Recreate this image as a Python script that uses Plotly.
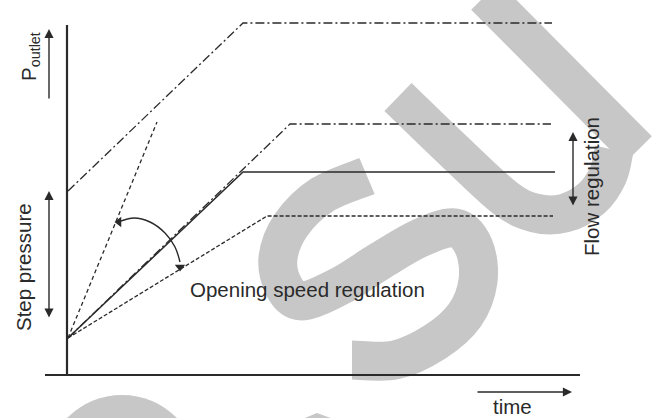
import plotly.graph_objects as go

W, H = 653, 418

# ---- schematic curves: outlet pressure vs time (arbitrary units) ----
fast_t = [0, 175, 484]      # step pressure + ramp (upper dash-dot)
fast_p = [184, 352, 352]
steep_t = [0, 89]           # fastest opening speed (dashed)
steep_p = [37, 253]
high_t = [0, 222, 483]      # higher flow setting (dash-dot)
high_p = [37, 251, 251]
nom_t = [0, 175, 487]       # nominal (solid)
nom_p = [37, 203, 203]
slow_t = [0, 199, 485]      # slow opening / low flow (dashed)
slow_p = [37, 159, 159]

labels = {
    "p": "P<sub>outlet</sub>",
    "step": "Step pressure",
    "flow": "Flow regulation",
    "speed": "Opening speed regulation",
    "time": "time",
}

INK = "#2a2a2a"
WM = "rgb(199,199,199)"
FONT = "Arial, Liberation Sans, sans-serif"


def smooth_path(xs, ys):
    """Catmull-Rom curve through the given pixel points, as an SVG path."""
    pts = list(zip(xs, ys))
    d = f"M {pts[0][0]} {pts[0][1]}"
    n = len(pts)
    for i in range(n - 1):
        p0 = pts[max(i - 1, 0)]
        p1 = pts[i]
        p2 = pts[i + 1]
        p3 = pts[min(i + 2, n - 1)]
        c1 = (p1[0] + (p2[0] - p0[0]) / 6, p1[1] + (p2[1] - p0[1]) / 6)
        c2 = (p2[0] - (p3[0] - p1[0]) / 6, p2[1] - (p3[1] - p1[1]) / 6)
        d += f" C {c1[0]:.1f} {c1[1]:.1f} {c2[0]:.1f} {c2[1]:.1f} {p2[0]} {p2[1]}"
    return d


fig = go.Figure()

# ---- watermark outline (pixel positions) ----
s_x = [367, 322, 291, 278, 284, 302, 340, 380, 420, 455, 474, 478, 465, 435, 395, 352]
s_y = [176, 195, 225, 258, 287, 301, 286, 261, 238, 228, 247, 281, 315, 342, 360, 360]
u_x = [398, 455, 505, 535, 565, 592, 608, 614]
u_y = [97, 152, 198, 213, 213, 198, 175, 150]
stem_x = [485, 638]
stem_y = [-4, 150]

# curved "opening speed" arrow (pixel space)
arc_x = [121, 134, 150, 165, 175, 180]
arc_y = [221, 218, 222, 233, 247, 262]
fig.add_trace(go.Scatter(x=arc_x, y=arc_y, mode="lines", xaxis="x", yaxis="y",
                         line=dict(color=INK, width=1.4, shape="spline"), hoverinfo="skip"))
fig.add_trace(go.Scatter(x=[119, 180], y=[222, 267], mode="markers", xaxis="x", yaxis="y",
                         marker=dict(symbol=["triangle-left", "triangle-down"], size=9,
                                     color=INK, line=dict(width=0)),
                         hoverinfo="skip"))

# ---- main schematic curves (data axes x2/y2, overlaying) ----
curves = [
    (fast_t, fast_p, "9px,3px,2px,3px", 1.3),
    (steep_t, steep_p, "4px,3px", 1.3),
    (high_t, high_p, "9px,3px,2px,3px", 1.3),
    (nom_t, nom_p, "solid", 1.5),
    (slow_t, slow_p, "4px,2px", 1.3),
]
for t, p, dash, w in curves:
    fig.add_trace(go.Scatter(x=t, y=p, mode="lines", xaxis="x2", yaxis="y2",
                             line=dict(color=INK, width=w, dash=dash), hoverinfo="skip"))

shapes = [
    # watermark strokes (below everything)
    dict(type="path", xref="x", yref="y", path=smooth_path(s_x, s_y),
         line=dict(color=WM, width=39), layer="below"),
    dict(type="path", xref="x", yref="y", path=smooth_path(u_x, u_y),
         line=dict(color=WM, width=39), layer="below"),
    dict(type="path", xref="x", yref="y", path=smooth_path(stem_x, stem_y),
         line=dict(color=WM, width=39), layer="below"),
    dict(type="circle", xref="x", yref="y", x0=45, x1=199, y0=395, y1=549,
         fillcolor=WM, line=dict(width=0), layer="below"),
    dict(type="path", xref="x", yref="y", path="M 317 413 L 300 420 L 336 420 Z",
         fillcolor=WM, line=dict(width=0), layer="below"),
    # axis lines of the schematic
    dict(type="line", xref="x", yref="y", x0=67, x1=67, y0=25, y1=376,
         line=dict(color=INK, width=2.2)),
    dict(type="line", xref="x", yref="y", x0=45, x1=580, y0=375, y1=375,
         line=dict(color=INK, width=2.2)),
]

ann = []
def arrow(x, y, ax, ay, both=False):
    ann.append(dict(x=x, y=y, ax=ax, ay=ay, xref="x", yref="y", axref="x", ayref="y",
                    text="", showarrow=True, arrowhead=2, arrowsize=1.3, arrowwidth=1.4,
                    arrowcolor=INK, standoff=0, startstandoff=0,
                    arrowside="end+start" if both else "end", startarrowhead=2,
                    startarrowsize=1.3))

arrow(49, 29, 49, 100)
arrow(49, 191, 49, 319, both=True)
arrow(573, 132, 573, 207, both=True)
arrow(572, 392, 476, 392)

def label(key, x, y, angle=0):
    ann.append(dict(x=x, y=y, xref="x", yref="y", text=labels[key], showarrow=False,
                    textangle=angle, xanchor="center", yanchor="middle",
                    font=dict(family=FONT, size=20.5, color=INK)))

label("p", 30, 57, -90)
label("step", 23, 267, -90)
label("flow", 591, 187, -90)
label("speed", 307, 289)
label("time", 512, 406)

fig.update_layout(
    width=W, height=H,
    margin=dict(l=0, r=0, t=0, b=0),
    paper_bgcolor="white", plot_bgcolor="white",
    showlegend=False,
    xaxis=dict(range=[0, W], visible=False, fixedrange=True),
    yaxis=dict(range=[H, 0], visible=False, fixedrange=True),
    xaxis2=dict(range=[-68, 585], visible=False, overlaying="x", anchor="y2", fixedrange=True),
    yaxis2=dict(range=[-43, 375], visible=False, overlaying="y", anchor="x2", fixedrange=True),
    shapes=shapes,
    annotations=ann,
)

fig.write_html("out.html", config={"displayModeBar": False},
               post_script="document.body.style.margin='0px';")
